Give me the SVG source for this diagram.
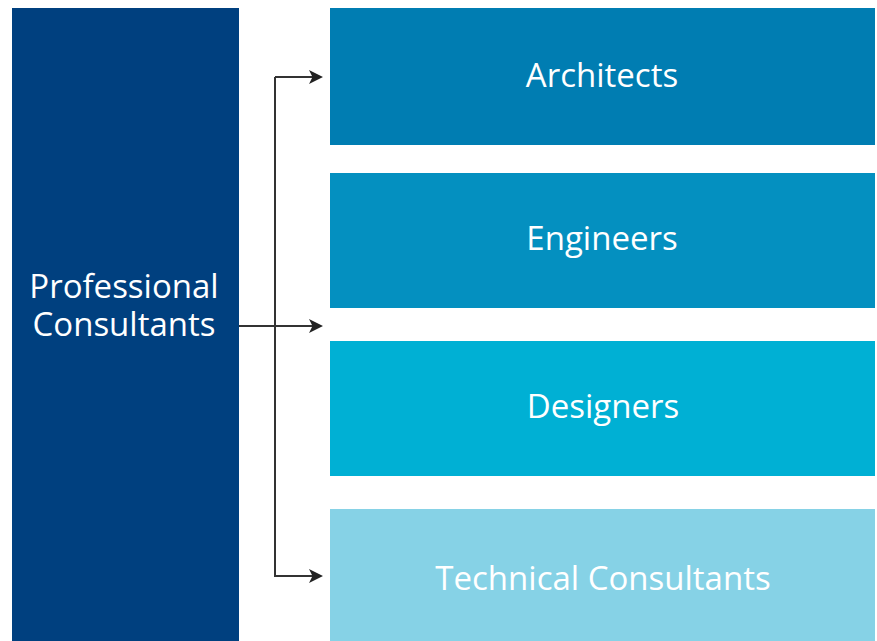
<svg xmlns="http://www.w3.org/2000/svg" width="877" height="641" viewBox="0 0 877 641">
<defs>
<style>
.t{font-family:"Open Sans","Liberation Sans",sans-serif;font-size:33px;fill:#fff;text-anchor:middle}
.c{stroke:#333;stroke-width:2;fill:none}
</style>
<marker id="ah" markerWidth="14" markerHeight="14" refX="12" refY="7" orient="auto" markerUnits="userSpaceOnUse">
<path d="M0,0 L14,7 L0,14 L3.5,7 Z" fill="#222"/>
</marker>
</defs>
<rect width="877" height="641" fill="#fff"/>
<g id="professional">
<rect x="12" y="8" width="227" height="633" fill="#00407F"/>
<text class="t" x="124" y="298">Professional</text>
<text class="t" x="124" y="336">Consultants</text>
</g>
<g id="architects">
<rect x="330" y="8" width="545" height="137" fill="#007DB2"/>
<text class="t" x="602" y="87">Architects</text>
</g>
<g id="engineers">
<rect x="330" y="173" width="545" height="135" fill="#0490C0"/>
<text class="t" x="602" y="250">Engineers</text>
</g>
<g id="designers">
<rect x="330" y="341" width="545" height="135" fill="#00B0D4"/>
<text class="t" x="603" y="418">Designers</text>
</g>
<g id="technical">
<rect x="330" y="509" width="545" height="132" fill="#86D2E6"/>
<text class="t" x="603" y="590">Technical Consultants</text>
</g>
<g id="connectors">
<path class="c" d="M275,77 V576 H321" marker-end="url(#ah)"/>
<path class="c" d="M275,77 H321" marker-end="url(#ah)"/>
<path class="c" d="M239,326 H321" marker-end="url(#ah)"/>
</g>
</svg>
